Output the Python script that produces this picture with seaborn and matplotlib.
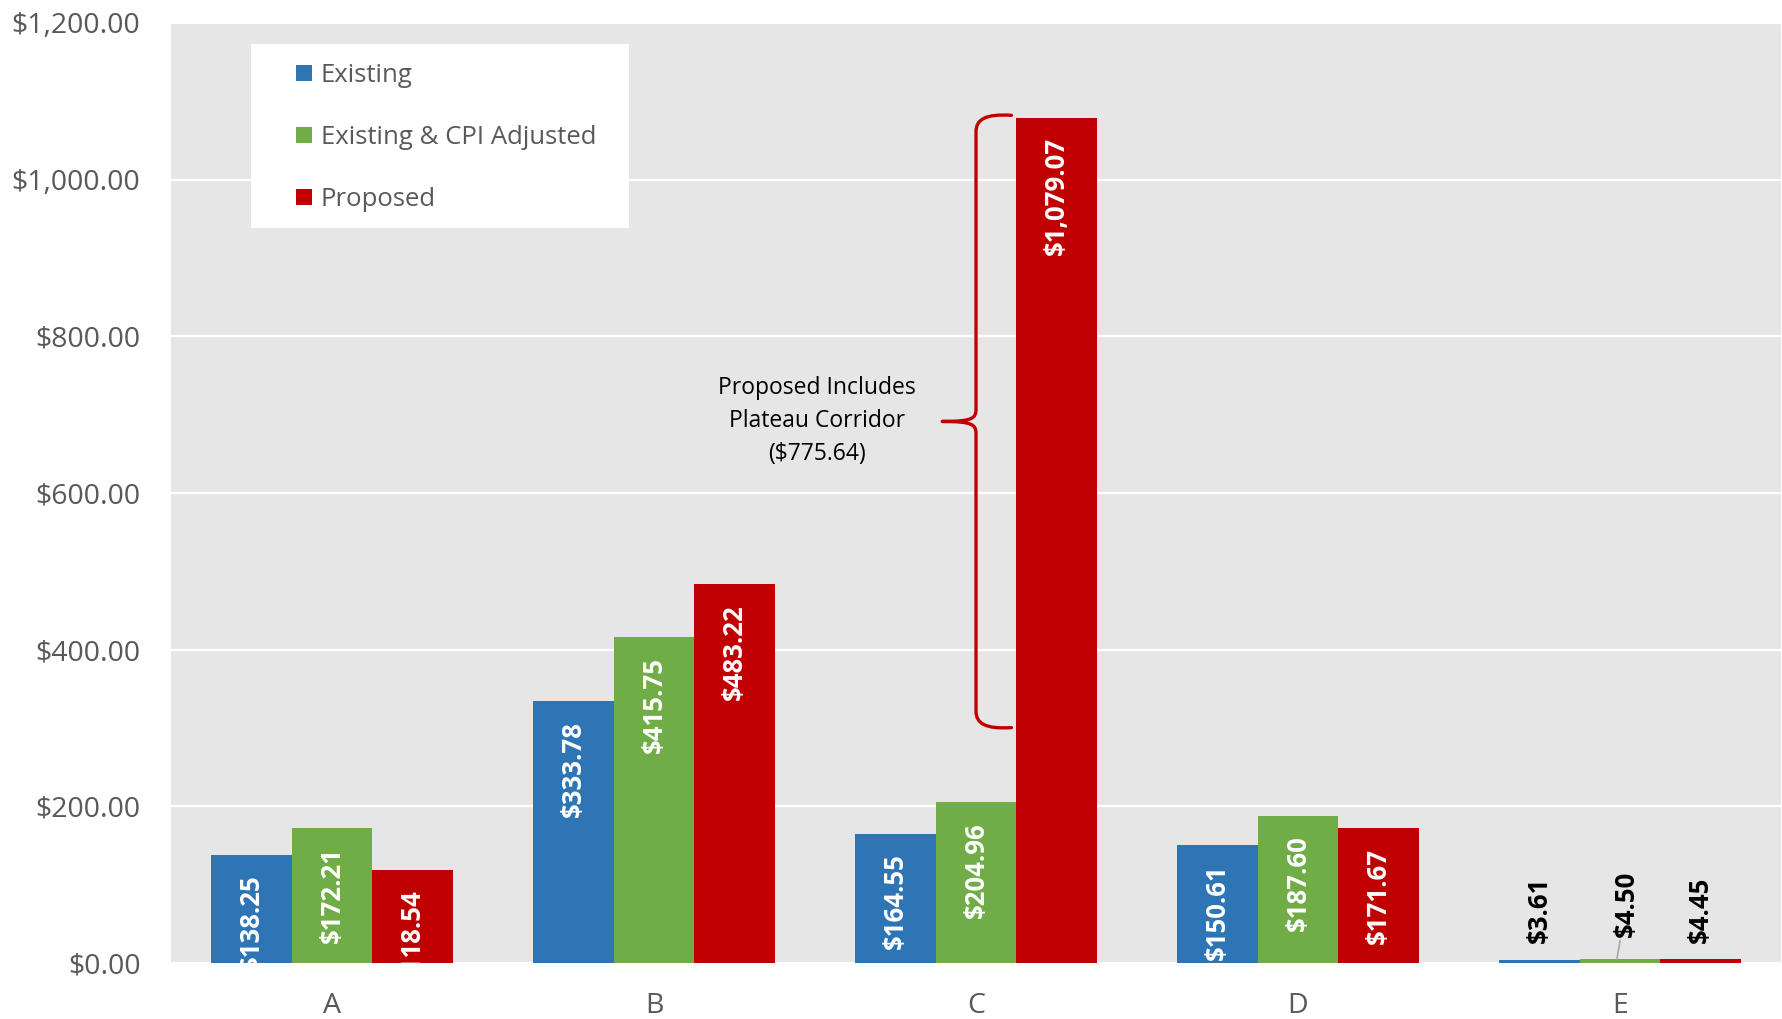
import matplotlib
matplotlib.use('Agg')
import matplotlib.pyplot as plt
import seaborn as sns
import pandas as pd
from matplotlib.path import Path
from matplotlib.patches import PathPatch, Rectangle
from matplotlib.ticker import FuncFormatter
from matplotlib.transforms import offset_copy

# data
categories = ['A', 'B', 'C', 'D', 'E']
existing = [138.25, 333.78, 164.55, 150.61, 3.61]
existing_cpi = [172.21, 415.75, 204.96, 187.60, 4.50]
proposed = [118.54, 483.22, 1079.07, 171.67, 4.45]
series_names = ['Existing', 'Existing & CPI Adjusted', 'Proposed']
colors = ['#2E75B6', '#70AD47', '#C00000']
plateau = 775.64
note = 'Proposed Includes\nPlateau Corridor\n($775.64)'

df = pd.DataFrame({
    'category': categories * 3,
    'series': [s for s in series_names for _ in categories],
    'value': existing + existing_cpi + proposed,
})

sns.set_theme(style='white')
plt.rcParams['font.family'] = ['Open Sans', 'DejaVu Sans']

fig = plt.figure(figsize=(17.83, 10.19), dpi=100)
ax = fig.add_axes([0.0959, 0.055, 0.903, 0.9225])
sns.barplot(data=df, x='category', y='value', hue='series', palette=colors,
            width=0.75, saturation=1, linewidth=0, errorbar=None, ax=ax)

ax.set_facecolor('#E7E6E6')
ax.set_xlim(-0.5, 4.5)
ax.set_ylim(0, 1200)
ax.set_yticks(range(0, 1201, 200))
ax.yaxis.set_major_formatter(FuncFormatter(lambda v, p: f'${v:,.2f}'))
ax.grid(axis='y', color='white', lw=1.6)
ax.set_axisbelow(True)
for s in ax.spines.values():
    s.set_visible(False)
ax.tick_params(axis='y', length=0, pad=22, labelsize=20.5, labelcolor='#595959')
ax.tick_params(axis='x', length=0, pad=21, labelsize=20.5, labelcolor='#595959')
ax.set_xlabel('')
ax.set_ylabel('')

# bar labels
tr_in = offset_copy(ax.transData, fig=fig, x=0, y=-14, units='points')
tr_out = offset_copy(ax.transData, fig=fig, x=0, y=12, units='points')
for k, (cont, name) in enumerate(zip(ax.containers, series_names)):
    vals = df.loc[df.series == name, 'value'].tolist()
    for bar, v in zip(cont, vals):
        cx = bar.get_x() + bar.get_width() / 2
        h = bar.get_height()
        lab = f'${v:,.2f}'
        if h > 50:
            ax.text(cx, h, lab, transform=tr_in, rotation=90, ha='center', va='top',
                    color='white', fontweight='bold', fontsize=18.5, clip_on=True)
        elif k == 1:
            # label nudged aside with a leader line
            ax.annotate(lab, (cx - 0.01, h), xytext=(7, 16), textcoords='offset points',
                        rotation=90, ha='center', va='bottom', color='black',
                        fontweight='bold', fontsize=18.5,
                        arrowprops=dict(arrowstyle='-', color='#A6A6A6', lw=1.2,
                                        shrinkA=0, shrinkB=0))
        else:
            ax.text(cx, h, lab, transform=tr_out, rotation=90, ha='center', va='bottom',
                    color='black', fontweight='bold', fontsize=18.5)

# brace for the plateau corridor
ci = categories.index('C')
top = proposed[ci]
bot = top - plateau
mid = (top + bot) / 2
xa = ci + 0.11
xt = ci - 0.105
verts = [
    (xa, top + 3), (ci + 0.03, top + 5), (ci, top - 2), (ci, top - 18),
    (ci, mid + 16),
    (ci, mid + 4), (ci - 0.01, mid), (xt, mid),
    (ci - 0.01, mid), (ci, mid - 4), (ci, mid - 16),
    (ci, bot + 18),
    (ci, bot + 2), (ci + 0.03, bot - 5), (xa, bot - 3),
]
codes = ([Path.MOVETO] + [Path.CURVE4] * 3 + [Path.LINETO] + [Path.CURVE4] * 3
         + [Path.CURVE4] * 3 + [Path.LINETO] + [Path.CURVE4] * 3)
ax.add_patch(PathPatch(Path(verts, codes), fill=False, edgecolor='#C00000', lw=2.4,
                       capstyle='round', joinstyle='round'))
ax.text(ci - 0.495, mid, note, ha='center', va='center', fontsize=16.5, color='black',
        linespacing=1.5)

# legend: white box behind a frameless legend
ax.add_patch(Rectangle((0.0494, 0.782), 0.2352, 0.196, transform=ax.transAxes,
                       facecolor='white', edgecolor='none', zorder=4))
handles, labels = ax.get_legend_handles_labels()
leg = ax.legend(handles, labels, loc='upper left', bbox_to_anchor=(0.0777, 0.9575),
                frameon=False, fontsize=18.5, labelcolor='#595959',
                handlelength=0.6, handleheight=0.6, handletextpad=0.35,
                labelspacing=1.45, borderpad=0, borderaxespad=0)
leg.set_zorder(5)

fig.savefig('out.png', dpi=100)
